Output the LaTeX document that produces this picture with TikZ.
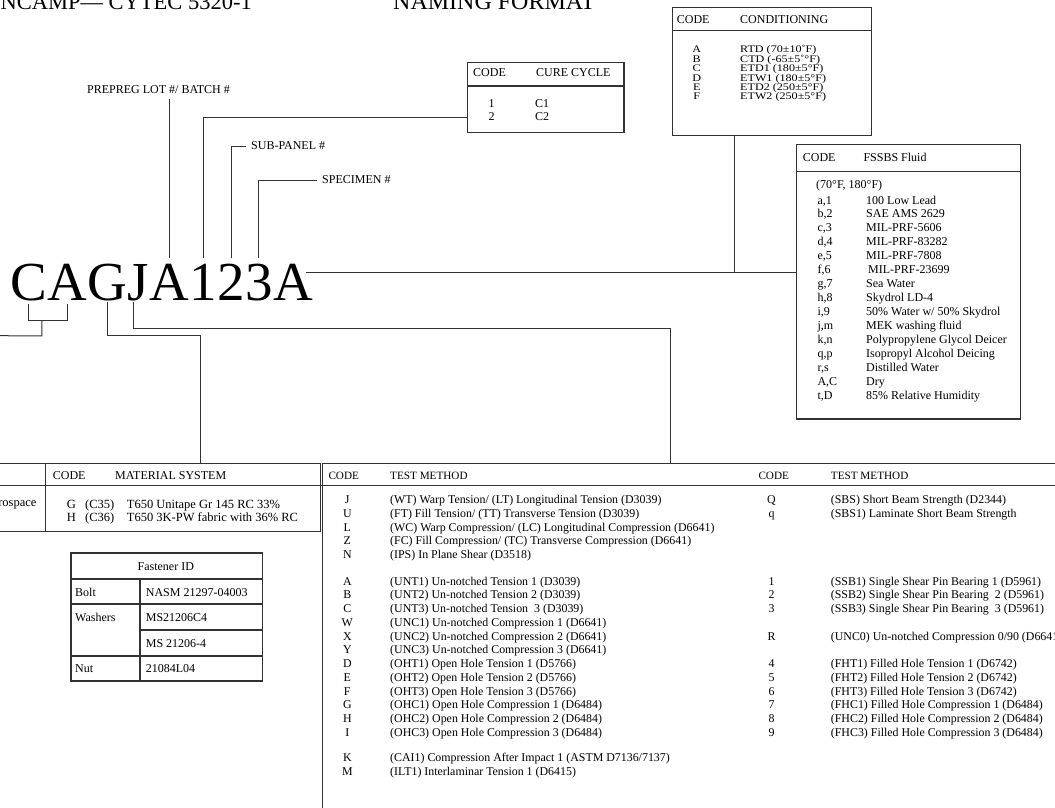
\documentclass[tikz,border=0pt]{standalone}
\usepackage{fontspec}
\setmainfont{Liberation Serif}
\newfontfamily\condfont{Liberation Serif}[FakeStretch=1.2]
\usetikzlibrary{positioning}

\tikzset{
  conn/.style={line width=1pt, draw=black!80},
  rule/.style={line width=1.4pt, draw=black!80},
  tbl/.style={draw=black!80, line width=1.4pt, inner sep=0pt, anchor=north west},
  ttl/.style={font=\fontsize{24}{24}\selectfont, inner sep=0pt, anchor=base west},
  lbl/.style={font=\fontsize{12}{14}\selectfont, inner sep=0pt, anchor=base west},
  hdr/.style={font=\fontsize{12}{14}\selectfont, inner sep=0pt, anchor=base west},
  condtxt/.style={font=\condfont\fontsize{10.1}{9.5}\selectfont, inner sep=0pt, anchor=base west},
  mattxt/.style={font=\fontsize{12.5}{14}\selectfont, inner sep=0pt, anchor=base west},
  bigch/.style={font=\fontsize{55}{55}\selectfont, inner sep=0pt, text height=36.5pt, text depth=0pt, anchor=base west},
  tmtxt/.style={font=\fontsize{11.9}{13}\selectfont, inner sep=0pt, anchor=base west},
  tmcode/.style={font=\fontsize{11.9}{13}\selectfont, inner sep=0pt, anchor=base},
}

\begin{document}
\begin{tikzpicture}[x=1pt,y=-1pt]
  \useasboundingbox (0,0) rectangle (1055,808);
  \clip (0,0) rectangle (1055,808);

  % title line (cut at the top)
  \node[ttl, font=\fontsize{22.5}{24}\selectfont, anchor=base east] (ttlL) at (252,10) {NCAMP— CYTEC 5320-1};
  \node[ttl] (ttlR) at (393,10) {NAMING FORMAT};

  % the specimen code
  \node[bigch] (c1) at (10,300) {C};
  \node[bigch] (c2) at (c1.base east) {A};
  \node[bigch] (c3) at (c2.base east) {G};
  \node[bigch] (c4) at (c3.base east) {J};
  \node[bigch] (c5) at (c4.base east) {A};
  \node[bigch] (c6) at (c5.base east) {1};
  \node[bigch] (c7) at (c6.base east) {2};
  \node[bigch] (c8) at (c7.base east) {3};
  \node[bigch] (c9) at (c8.base east) {A};

  % labels above the code
  \node[lbl, inner ysep=6pt] (prepreg) at (87,93) {PREPREG LOT \#/ BATCH \#};
  \node[lbl, anchor=west, inner xsep=5pt] (subpanel) at (246,146) {SUB-PANEL \#};
  \node[lbl, anchor=west, inner xsep=5pt] (specimen) at (317,180) {SPECIMEN \#};

  % boxes
  \node[tbl, minimum width=156.8pt, minimum height=69.7pt] (cure) at (466.5,62) {};
  \node[tbl, minimum width=199pt, minimum height=128.3pt] (cond) at (671.7,6.7) {};
  \node[tbl, minimum width=224pt, minimum height=274.3pt] (fssbs) at (796,144) {};
  \node[tbl, minimum width=323pt, minimum height=68.3pt] (mat) at (-3,462.7) {};
  \node[tbl, minimum width=738.5pt, minimum height=349.3pt] (tst) at (321.5,462.7) {};
  \node[tbl, line width=1.7pt, minimum width=191.7pt, minimum height=127.7pt] (fast) at (70,552.3) {};

  \draw[rule] ([yshift=-24pt]cure.north west) -- ([yshift=-24pt]cure.north east);
  \draw[rule] ([yshift=-24pt]cond.north west) -- ([yshift=-24pt]cond.north east);
  \draw[rule] ([yshift=-27.7pt]fssbs.north west) -- ([yshift=-27.7pt]fssbs.north east);
  \draw[rule] ([yshift=-23pt]mat.north west) -- ([yshift=-23pt]tst.north east);
  \draw[rule] ([xshift=48.7pt]mat.north west) -- ([xshift=48.7pt]mat.south west);

  % fastener grid
  \draw[rule, line width=1.7pt] ([yshift=-26.7pt]fast.north west) -- ([yshift=-26.7pt]fast.north east);
  \draw[rule, line width=1.7pt] ([yshift=-52pt]fast.north west) -- ([yshift=-52pt]fast.north east);
  \draw[rule, line width=1.7pt] ([xshift=70pt,yshift=-77.7pt]fast.north west) -- ([yshift=-77.7pt]fast.north east);
  \draw[rule, line width=1.7pt] ([yshift=-103.4pt]fast.north west) -- ([yshift=-103.4pt]fast.north east);
  \draw[rule, line width=1.7pt] ([xshift=70pt,yshift=-26.7pt]fast.north west) -- ([xshift=70pt]fast.south west);

  % connectors above
  \draw[conn] ([yshift=5pt]c5.north) -- (c5.north |- prepreg.south);
  \draw[conn] ([yshift=5pt]c6.north) |- ([yshift=15.7pt]cure.south west);
  \draw[conn] ([yshift=5pt]c7.north) |- (subpanel.west);
  \draw[conn] ([yshift=5pt]c8.north) |- (specimen.west);
  \coordinate (aEnd) at ([xshift=-7pt,yshift=9pt]c9.east);
  \draw[conn] (aEnd) -- (aEnd -| fssbs.west);
  \draw[conn] ([xshift=-37.2pt]cond.south) -- ([xshift=-37.2pt]cond.south |- aEnd);

  % connectors below
  \coordinate (offL) at (-2,335.7);
  \draw[conn] ([yshift=-4pt]c1.south) |- ([yshift=-20pt]c2.south) -- ([yshift=-4pt]c2.south);
  \draw[conn] ([xshift=13.4pt,yshift=-20pt]c1.south) -- ++(0,15.7) -- (offL);
  \draw[conn] ([yshift=-2pt]c3.south) -- ++(0,33.7) -| ([xshift=40.8pt]mat.north);
  \draw[conn] ([xshift=-5pt,yshift=-2pt]c4.south) -- ++(0,26.3) -| ([xshift=-20.75pt]tst.north);

  % cure cycle
  \node[hdr] (cureH1) at (473,77) {CODE};
  \node[hdr] (cureH2) at (536,77) {CURE CYCLE};
  \foreach \cd/\txt [count=\i] in {1/C1, 2/C2} {
    \node[lbl, anchor=base] (curec\i) at ({491.7},{93.5+\i*13.5}) {\cd};
    \node[lbl] (curet\i) at ({535},{93.5+\i*13.5}) {\txt};
  }

  % conditioning
  \node[hdr] (condH1) at (676.7,23.3) {CODE};
  \node[hdr] (condH2) at (740,23.3) {CONDITIONING};
  \foreach \cd/\txt [count=\i] in {A/{RTD (70±10˚F)}, B/{CTD (-65±5˚°F)}, C/{ETD1 (180±5°F)},
      D/{ETW1 (180±5°F)}, E/{ETD2 (250±5°F)}, F/{ETW2 (250±5°F)}} {
    \node[condtxt, anchor=base] (condc\i) at ({696.7},{43.2+\i*9.46}) {\cd};
    \node[condtxt] (condt\i) at ({740},{43.2+\i*9.46}) {\txt};
  }

  % FSSBS fluid
  \node[hdr] (fsH1) at (802.7,161.7) {CODE};
  \node[hdr] (fsH2) at (863.3,161.7) {FSSBS Fluid};
  \node[lbl] (fsTemp) at (816,188.5) {(70°F, 180°F)};
  \foreach \cd/\txt [count=\i] in {{a,1}/{100 Low Lead}, {b,2}/{SAE AMS 2629}, {c,3}/{MIL-PRF-5606},
      {d,4}/{MIL-PRF-83282}, {e,5}/{MIL-PRF-7808}, {f,6}/{\,MIL-PRF-23699}, {g,7}/{Sea Water},
      {h,8}/{Skydrol LD-4}, {i,9}/{50\% Water w/ 50\% Skydrol}, {j,m}/{MEK washing fluid},
      {k,n}/{Polypropylene Glycol Deicer}, {q,p}/{Isopropyl Alcohol Deicing},
      {r,s}/{Distilled Water}, {A,C}/{Dry}, {t,D}/{85\% Relative Humidity}} {
    \node[lbl] (fsc\i) at ({817.3},{190.05+\i*13.95}) {\cd};
    \node[lbl] (fst\i) at ({866},{190.05+\i*13.95}) {\txt};
  }

  % material system
  \node[hdr] (matH1) at (52.7,479.3) {CODE};
  \node[hdr] (matH2) at (115,479.3) {MATERIAL SYSTEM};
  \node[mattxt, anchor=base east] (matL) at (36.7,506.7) {rospace};
  \foreach \cd/\cm/\txt [count=\i] in {G/(C35)/{T650 Unitape Gr 145 RC 33\%},
      H/(C36)/{T650 3K-PW fabric with 36\% RC}} {
    \node[mattxt] (matc\i) at ({66.7},{494.3+\i*13.7}) {\cd};
    \node[mattxt] (matm\i) at ({85},{494.3+\i*13.7}) {\cm};
    \node[mattxt] (matt\i) at ({126.7},{494.3+\i*13.7}) {\txt};
  }

  % fastener ID
  \node[lbl, anchor=base] (fastH) at (165.8,570) {Fastener ID};
  \foreach \xx/\yy/\txt [count=\i] in {75/596.7/Bolt, 145.7/596.7/{NASM 21297-04003},
      75/621.7/Washers, 145.7/621.7/MS21206C4, 145.7/647.3/{MS 21206-4},
      75/672.7/Nut, 145.7/672.7/21084L04} {
    \node[lbl] (fastt\i) at (\xx,\yy) {\txt};
  }

  % test methods
  \node[hdr, font=\fontsize{11.2}{13}\selectfont] (tmH1) at (328.3,479) {CODE};
  \node[hdr, font=\fontsize{11.2}{13}\selectfont] (tmH2) at (390,479) {TEST METHOD};
  \node[hdr, font=\fontsize{11.2}{13}\selectfont] (tmH3) at (758.3,479) {CODE};
  \node[hdr, font=\fontsize{11.2}{13}\selectfont] (tmH4) at (830.7,479) {TEST METHOD};

  \foreach \yy/\cd/\txt [count=\i] in {
      503.5/J/{(WT) Warp Tension/ (LT) Longitudinal Tension (D3039)},
      517.3/U/{(FT) Fill Tension/ (TT) Transverse Tension (D3039)},
      531/L/{(WC) Warp Compression/ (LC) Longitudinal Compression (D6641)},
      544.8/Z/{(FC) Fill Compression/ (TC) Transverse Compression (D6641)},
      558.5/N/{(IPS) In Plane Shear (D3518)},
      585/A/{(UNT1) Un-notched Tension 1 (D3039)},
      598.8/B/{(UNT2) Un-notched Tension 2 (D3039)},
      612.5/C/{(UNT3) Un-notched Tension \ 3 (D3039)},
      626.3/W/{(UNC1) Un-notched Compression 1 (D6641)},
      640/X/{(UNC2) Un-notched Compression 2 (D6641)},
      653.8/Y/{(UNC3) Un-notched Compression 3 (D6641)},
      667.5/D/{(OHT1) Open Hole Tension 1 (D5766)},
      681.3/E/{(OHT2) Open Hole Tension 2 (D5766)},
      695/F/{(OHT3) Open Hole Tension 3 (D5766)},
      708.8/G/{(OHC1) Open Hole Compression 1 (D6484)},
      722.5/H/{(OHC2) Open Hole Compression 2 (D6484)},
      736.3/I/{(OHC3) Open Hole Compression 3 (D6484)},
      761/K/{(CAI1) Compression After Impact 1 (ASTM D7136/7137)},
      775/M/{(ILT1) Interlaminar Tension 1 (D6415)}} {
    \node[tmcode] (tlc\i) at (347.3,\yy) {\cd};
    \node[tmtxt] (tlt\i) at (390,\yy) {\txt};
  }

  \foreach \yy/\cd/\txt [count=\i] in {
      503.5/Q/{(SBS) Short Beam Strength (D2344)},
      517.3/q/{(SBS1) Laminate Short Beam Strength},
      585/1/{(SSB1) Single Shear Pin Bearing 1 (D5961)},
      598.8/2/{(SSB2) Single Shear Pin Bearing \ 2 (D5961)},
      612.5/3/{(SSB3) Single Shear Pin Bearing \ 3 (D5961)},
      640/R/{(UNC0) Un-notched Compression 0/90 (D6641)},
      667.5/4/{(FHT1) Filled Hole Tension 1 (D6742)},
      681.3/5/{(FHT2) Filled Hole Tension 2 (D6742)},
      695/6/{(FHT3) Filled Hole Tension 3 (D6742)},
      708.8/7/{(FHC1) Filled Hole Compression 1 (D6484)},
      722.5/8/{(FHC2) Filled Hole Compression 2 (D6484)},
      736.3/9/{(FHC3) Filled Hole Compression 3 (D6484)}} {
    \node[tmcode] (trc\i) at (771.5,\yy) {\cd};
    \node[tmtxt] (trt\i) at (830.7,\yy) {\txt};
  }
\end{tikzpicture}
\end{document}
